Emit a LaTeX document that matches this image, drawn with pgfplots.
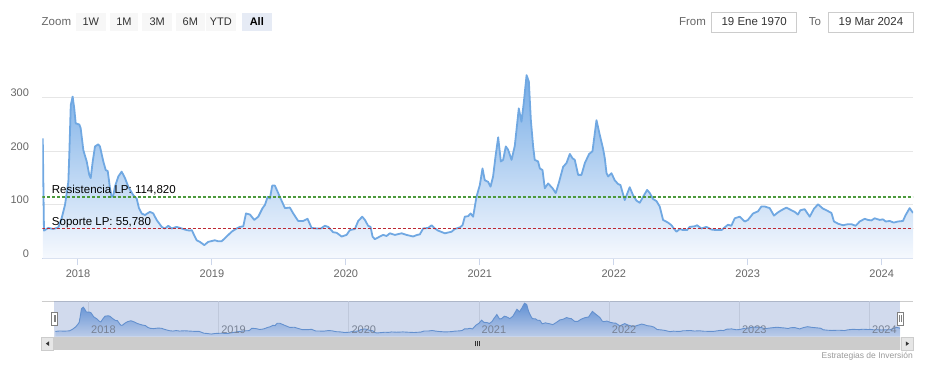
\documentclass[border=0pt]{standalone}
\usepackage{pgfplots}
\pgfplotsset{compat=1.18}
\usepackage{pgfplotstable}
\usepackage{fontspec}
\setmainfont{Liberation Sans}
\definecolor{serieline}{RGB}{112,168,226}
\definecolor{filltop}{RGB}{118,172,230}
\definecolor{fillbot}{RGB}{246,249,254}
\definecolor{navline}{RGB}{100,150,212}
\definecolor{navtop}{RGB}{95,150,220}
\definecolor{navbot}{RGB}{225,235,250}
\definecolor{gridc}{RGB}{230,230,230}
\definecolor{axisc}{RGB}{204,214,235}
\definecolor{labc}{RGB}{102,102,102}
\definecolor{navlab}{RGB}{128,128,128}
\definecolor{resc}{RGB}{76,154,60}
\definecolor{supc}{RGB}{190,40,50}
\definecolor{maskc}{RGB}{102,133,194}
\definecolor{btnbg}{RGB}{247,247,247}
\definecolor{btnsel}{RGB}{230,235,245}
\definecolor{txt}{RGB}{51,51,51}
\definecolor{boxb}{RGB}{204,204,204}
\definecolor{credc}{RGB}{153,153,153}
\definecolor{scrtrack}{RGB}{242,242,242}
\definecolor{scrthumb}{RGB}{204,204,204}
\definecolor{scrbtn}{RGB}{230,230,230}

\pgfplotstableread{
x y
2017.737 224
2017.746 52
2017.778 57
2017.816 55
2017.853 58
2017.878 75
2017.903 100
2017.928 143
2017.935 193
2017.946 286
2017.960 302
2017.972 280
2017.983 252
2018.010 250
2018.020 243
2018.040 202
2018.065 181
2018.084 156
2018.095 150
2018.110 181
2018.127 209
2018.151 213
2018.164 209
2018.189 181
2018.207 165
2018.222 163
2018.239 131
2018.251 115
2018.263 117
2018.276 134
2018.301 153
2018.326 162
2018.351 150
2018.375 134
2018.413 118
2018.438 112
2018.455 94
2018.475 84
2018.500 81
2018.517 84
2018.537 87
2018.562 84
2018.587 72
2018.625 59
2018.649 56
2018.674 61
2018.699 56
2018.737 59
2018.774 56
2018.811 53
2018.836 52
2018.849 53
2018.886 34
2018.910 31
2018.943 25
2018.972 31
2019.022 34
2019.047 32
2019.072 32
2019.110 41
2019.147 50
2019.184 56
2019.209 59
2019.234 60
2019.254 84
2019.284 82
2019.316 72
2019.346 78
2019.378 94
2019.396 100
2019.416 115
2019.433 112
2019.450 136
2019.470 136
2019.507 115
2019.545 94
2019.582 95
2019.607 84
2019.644 70
2019.681 70
2019.714 74
2019.744 57
2019.781 56
2019.813 56
2019.843 61
2019.868 59
2019.905 49
2019.931 48
2019.968 41
2020.005 44
2020.030 53
2020.067 55
2020.092 70
2020.122 78
2020.142 72
2020.166 61
2020.184 59
2020.199 41
2020.216 36
2020.254 41
2020.278 44
2020.304 42
2020.328 47
2020.366 44
2020.416 47
2020.453 44
2020.502 41
2020.532 44
2020.552 45
2020.577 56
2020.614 57
2020.640 62
2020.664 56
2020.689 52
2020.739 47
2020.789 50
2020.813 55
2020.851 58
2020.871 62
2020.888 78
2020.913 79
2020.931 84
2020.950 78
2020.975 115
2021.000 137
2021.020 168
2021.037 146
2021.062 143
2021.080 134
2021.099 153
2021.117 190
2021.137 226
2021.157 181
2021.174 184
2021.194 209
2021.211 203
2021.237 184
2021.261 210
2021.291 280
2021.311 255
2021.328 290
2021.349 342
2021.366 330
2021.381 258
2021.398 209
2021.410 184
2021.435 181
2021.448 168
2021.468 165
2021.485 131
2021.510 140
2021.543 131
2021.567 122
2021.592 143
2021.622 171
2021.647 178
2021.672 195
2021.692 187
2021.709 184
2021.734 156
2021.759 156
2021.784 178
2021.816 195
2021.841 200
2021.871 258
2021.896 230
2021.920 205
2021.933 187
2021.946 159
2021.958 153
2021.983 159
2022.007 146
2022.032 139
2022.050 137
2022.082 109
2022.119 133
2022.144 118
2022.169 108
2022.194 104
2022.219 115
2022.249 128
2022.269 122
2022.293 111
2022.319 107
2022.343 97
2022.368 72
2022.405 67
2022.431 62
2022.448 56
2022.468 50
2022.493 55
2022.517 53
2022.547 53
2022.567 59
2022.604 60
2022.622 62
2022.654 56
2022.692 59
2022.729 54
2022.766 53
2022.804 53
2022.828 58
2022.853 63
2022.878 61
2022.903 75
2022.940 78
2022.978 69
2023.002 72
2023.040 84
2023.077 88
2023.102 97
2023.127 97
2023.164 94
2023.196 80
2023.226 86
2023.251 90
2023.289 95
2023.326 90
2023.351 87
2023.375 82
2023.393 90
2023.425 92
2023.463 78
2023.495 93
2023.525 101
2023.562 93
2023.587 90
2023.625 85
2023.644 69
2023.674 65
2023.711 62
2023.749 64
2023.774 64
2023.806 61
2023.836 69
2023.873 74
2023.898 72
2023.923 71
2023.948 75
2023.985 72
2024.010 73
2024.030 69
2024.060 70
2024.090 67
2024.122 69
2024.159 70
2024.179 81
2024.209 94
2024.234 85
}\pricedata

\begin{document}
\begin{tikzpicture}[x=1pt,y=1pt]
\path[use as bounding box] (0,0) rectangle (930,369);

% ---------- range selector toolbar ----------
\node[anchor=west, text=labc, font=\fontsize{11.5}{13}\selectfont, inner sep=0pt] at (41.5,347) {Zoom};
\foreach \xa/\xb/\lab in {76/105.6/1W, 109.7/138.2/1M, 142.3/172/3M, 176/204.6/6M, 205.8/236/YTD}{
  \fill[btnbg] (\xa,338) rectangle (\xb,356);
  \node[text=txt, font=\fontsize{11}{13}\selectfont, inner sep=0pt] at ({(\xa+\xb)/2},347) {\lab};
}
\fill[btnsel] (242,338) rectangle (271.6,356);
\node[text=black, font=\fontsize{11}{13}\selectfont\bfseries, inner sep=0pt] at (256.8,347) {All};
\node[text=labc, font=\fontsize{11.5}{13}\selectfont, inner sep=0pt] at (692.5,347) {From};
\draw[boxb, fill=white, line width=0.8pt] (711.7,337) rectangle (796.6,357);
\node[text=txt, font=\fontsize{11.5}{13}\selectfont, inner sep=0pt] at (754.2,347) {19 Ene 1970};
\node[text=labc, font=\fontsize{11.5}{13}\selectfont, inner sep=0pt] at (815,347) {To};
\draw[boxb, fill=white, line width=0.8pt] (828.6,337) rectangle (913.2,357);
\node[text=txt, font=\fontsize{11.5}{13}\selectfont, inner sep=0pt] at (870.9,347) {19 Mar 2024};

% ---------- main chart ----------
\begin{axis}[
  at={(42.5pt,110.5pt)}, anchor=south west,
  scale only axis, width=870.5pt, height=193pt,
  xmin=2017.735, xmax=2024.234, ymin=0, ymax=360,
  axis x line*=bottom, axis y line*=left,
  axis line style={-},
  x axis line style={axisc, line width=1pt},
  y axis line style={draw=none},
  xtick={2018,2019,2020,2021,2022,2023,2024},
  xticklabels={2018,2019,2020,2021,2022,2023,2024},
  ytick={0,100,200,300},
  yticklabels={0,100,200,300},
  xtick style={axisc, line width=1pt},
  ytick style={draw=none},
  major tick length=7pt,
  tick align=outside,
  ymajorgrids,
  grid style={gridc, line width=1pt},
  xticklabel style={text=labc, font=\fontsize{11}{13}\selectfont, yshift=-1pt},
  yticklabel style={text=labc, font=\fontsize{11}{13}\selectfont, anchor=east, yshift=5pt, xshift=-3pt},
]
\addplot[draw=none, top color=filltop, bottom color=fillbot] table[x=x, y=y] {\pricedata} \closedcycle;
\addplot[serieline, line width=1.8pt, line join=round, mark=none] table[x=x, y=y] {\pricedata};
\addplot[resc, line width=1.2pt, dash pattern=on 3pt off 2pt, mark=none] coordinates {(2017.735,114.82) (2024.234,114.82)};
\addplot[supc, line width=1.2pt, dash pattern=on 3pt off 2pt, mark=none] coordinates {(2017.735,55.78) (2024.234,55.78)};
\node[anchor=base west, inner sep=0pt, font=\fontsize{11.5}{13}\selectfont] at (axis cs:2017.804,114.82) [yshift=3pt] {Resistencia LP: 114,820};
\node[anchor=base west, inner sep=0pt, font=\fontsize{11.5}{13}\selectfont] at (axis cs:2017.804,55.78) [yshift=3pt] {Soporte LP: 55,780};
\end{axis}

% ---------- navigator ----------
\draw[boxb, line width=0.8pt] (41.7,67.7) -- (913,67.7);
\begin{axis}[
  at={(54pt,32.5pt)}, anchor=south west,
  scale only axis, width=846pt, height=35pt,
  xmin=2017.735, xmax=2024.234, ymin=0, ymax=360,
  axis line style={draw=none},
  xtick={2018,2019,2020,2021,2022,2023,2024},
  xticklabels={},
  ytick=\empty,
  tick style={draw=none},
  xmajorgrids,
  grid style={gridc, line width=0.8pt},
  clip=false,
]
\addplot[draw=none, top color=navtop, bottom color=navbot, skip coords between index={0}{1}] table[x=x, y=y] {\pricedata} \closedcycle;
\addplot[navline, line width=0.9pt, mark=none, skip coords between index={0}{1}] table[x=x, y=y] {\pricedata};
\pgfplotsinvokeforeach{2018,2019,2020,2021,2022,2023,2024}{
  \node[anchor=base west, inner sep=0pt, text=navlab, font=\fontsize{11}{13}\selectfont] at (axis cs:#1,0) [xshift=2.5pt, yshift=3pt] {#1};
}
\end{axis}
% mask over selected range
\fill[maskc, opacity=0.3] (54,32) rectangle (900,67.7);
% handles
\foreach \hx in {51.7,897.3}{
  \draw[fill=white, draw=gray, line width=0.8pt] (\hx,44) rectangle (\hx+6,57);
  \draw[gray, line width=0.7pt] (\hx+2.3,47) -- (\hx+2.3,54);
  \draw[gray, line width=0.7pt] (\hx+3.7,47) -- (\hx+3.7,54);
}

% ---------- scrollbar ----------
\fill[scrtrack] (41.7,18.7) rectangle (913,32);
\fill[scrthumb] (54,18.7) rectangle (900,32);
\draw[boxb, fill=scrbtn, line width=0.6pt] (41.7,18.7) rectangle (53.3,32);
\draw[boxb, fill=scrbtn, line width=0.6pt] (901.4,18.7) rectangle (913,32);
\fill[txt] (45.8,25.35) -- (49,27.6) -- (49,23.1) -- cycle;
\fill[txt] (909,25.35) -- (905.8,27.6) -- (905.8,23.1) -- cycle;
\foreach \gx in {475,477,479}{
  \draw[txt, line width=0.7pt] (\gx,22.6) -- (\gx,28.1);
}

% ---------- credits ----------
\node[anchor=east, inner sep=0pt, text=credc, font=\fontsize{8.5}{10}\selectfont] at (913,13) {Estrategias de Inversión};
\end{tikzpicture}
\end{document}
